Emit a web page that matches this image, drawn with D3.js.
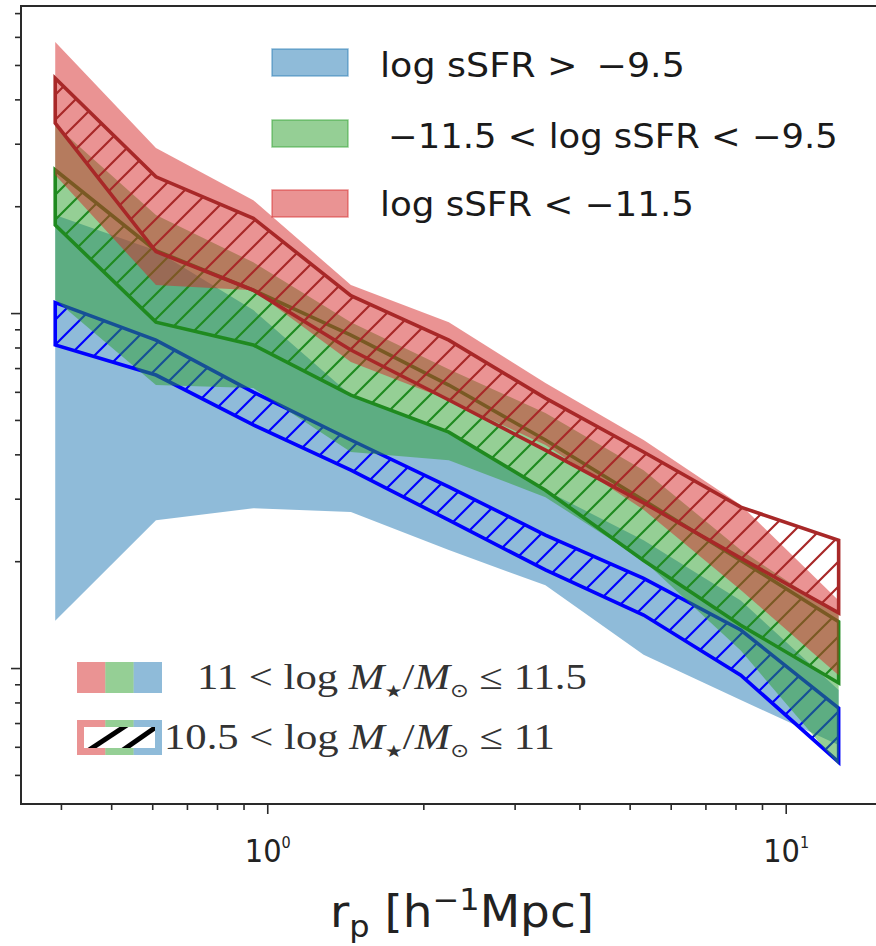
<!DOCTYPE html>
<html><head><meta charset="utf-8">
<script src="https://cdn.jsdelivr.net/npm/d3@7"></script>
<style>body{margin:0;background:#fff}svg{display:block}</style>
</head><body>
<svg id="c" width="876" height="946"></svg>
<script>
// projected separation bins (h^-1 Mpc)
const rp = [0.39, 0.61, 0.94, 1.45, 2.24, 3.44, 5.32, 8.19, 12.65];

// 11 < log M* <= 11.5  (solid bands)
const blueSolidHi  = [189, 150, 102, 58.7, 46.2, 31.7, 22.9, 15.5, 8.67];
const blueSolidLo  = [13.6, 26.1, 28.2, 27.5, 21.5, 17.1, 10.9, 8.13, 6.07];
const greenSolidHi = [339, 189, 139, 94.3, 69.5, 52.3, 36.1, 21.5, 14.1];
const greenSolidLo = [109, 62.7, 61.5, 40.6, 38.5, 30.3, 20.1, 11.2, 5.33];
const redSolidHi   = [580, 292, 208, 120, 94.3, 63.5, 43.9, 28.8, 15.5];
const redSolidLo   = [245, 120, 116, 72.8, 56.9, 42.5, 27.9, 16.6, 9.55];

// 10.5 < log M* <= 11  (hatched bands)
const blueHatchHi  = [107, 83.9, 59.9, 43.9, 32.4, 23.7, 17.9, 12.8, 7.71];
const blueHatchLo  = [81.3, 66.9, 48.4, 36.1, 26.1, 18.9, 14.1, 9.55, 5.43];
const greenHatchHi = [253, 150, 116, 86.7, 62.7, 43.9, 29.7, 20.1, 13.5];
const greenHatchLo = [177, 94.3, 81.3, 58.7, 46.2, 31.7, 20.1, 13.2, 9.08];
const redHatchHi   = [459, 242, 185, 112, 83.9, 57.6, 40.6, 28.4, 22.9];
const redHatchLo   = [343, 149, 116, 78.7, 56.9, 41.1, 29.2, 20.4, 14.3];

const xMajorTicks = [1, 10];
const xTickLabels = [["10","0"], ["10","1"]];
const xMinorTicks = [0.4,0.5,0.6,0.7,0.8,0.9,2,3,4,5,6,7,8,9];
const yMajorTicks = [10, 100];
const yMinorTicks = [5,6,7,8,9,20,30,40,50,60,70,80,90,200,300,400,500,600,700];
const sfrLabels = ["log sSFR > \u2009\u22129.5", "\u221211.5 < log sSFR < \u22129.5", "log sSFR < \u221211.5"];
const massLabels = [["11 < log ", " \u2264 11.5"], ["10.5 < log ", " \u2264 11"]];

const C = {
  blue:  {solid:"#1f77b4", hatch:"#0000ff"},
  green: {solid:"#2ca02c", hatch:"#1f8a1f"},
  red:   {solid:"#d62728", hatch:"#a82828"}
};

const svg = d3.select("#c");
const L = 21, R = 880, T = 6, B = 804;
const x = d3.scaleLog().domain([0.335, 15.2]).range([L, R]);
const y = d3.scaleLog().domain([4.14, 733]).range([B, T]);

const defs = svg.append("defs");
defs.append("clipPath").attr("id","plotclip").append("rect")
  .attr("x",L).attr("y",T).attr("width",R-L).attr("height",B-T);
function hatchPattern(id, color){
  const p = defs.append("pattern").attr("id",id).attr("patternUnits","userSpaceOnUse")
    .attr("width",25).attr("height",25);
  p.append("path").attr("d","M-5,5 L5,-5 M0,25 L25,0 M20,30 L30,20")
    .attr("stroke",color).attr("stroke-width",2.2).attr("fill","none");
}
hatchPattern("hb", C.blue.hatch);
hatchPattern("hg", C.green.hatch);
hatchPattern("hr", C.red.hatch);

const plot = svg.append("g").attr("clip-path","url(#plotclip)");
function band(lo, hi){
  return d3.area().x((d,i)=>x(rp[i])).y0((d,i)=>y(lo[i])).y1((d,i)=>y(hi[i]))(rp);
}
function solid(lo, hi, color){
  plot.append("path").attr("d", band(lo,hi)).attr("fill", color).attr("fill-opacity",0.5).attr("stroke","none");
}
function hatched(lo, hi, color, pid){
  plot.append("path").attr("d", band(lo,hi)).attr("fill", `url(#${pid})`)
    .attr("stroke", color).attr("stroke-width",3.6).attr("stroke-linejoin","miter");
}
solid(blueSolidLo, blueSolidHi, C.blue.solid);
hatched(blueHatchLo, blueHatchHi, C.blue.hatch, "hb");
solid(greenSolidLo, greenSolidHi, C.green.solid);
hatched(greenHatchLo, greenHatchHi, C.green.hatch, "hg");
solid(redSolidLo, redSolidHi, C.red.solid);
hatched(redHatchLo, redHatchHi, C.red.hatch, "hr");

// axes
const axCol = "#2a2a2a";
const gx = svg.append("g").attr("transform",`translate(0,${B})`)
  .call(d3.axisBottom(x).tickValues(xMajorTicks).tickSize(10).tickFormat(""));
const gxm = svg.append("g").attr("transform",`translate(0,${B})`)
  .call(d3.axisBottom(x).tickValues(xMinorTicks).tickSize(6).tickFormat(""));
const gy = svg.append("g").attr("transform",`translate(${L},0)`)
  .call(d3.axisLeft(y).tickValues(yMajorTicks).tickSize(10).tickFormat(""));
const gym = svg.append("g").attr("transform",`translate(${L},0)`)
  .call(d3.axisLeft(y).tickValues(yMinorTicks).tickSize(6).tickFormat(""));
[gx,gxm,gy,gym].forEach(g=>{
  g.select(".domain").remove();
  g.selectAll(".tick line").attr("stroke",axCol).attr("stroke-width",1.6);
});

function fitWidth(sel, x0, target){
  const w = sel.node().getBBox().width;
  sel.attr("transform", `translate(${x0},0) scale(${target/w},1) translate(${-x0},0)`);
}

// x tick labels 10^0, 10^1
gx.selectAll(".tick").each(function(d,i){
  const t = d3.select(this).append("text").attr("y",58).attr("text-anchor","middle")
    .attr("fill","#222").attr("font-family","DejaVu Sans").attr("font-size",32);
  t.append("tspan").text(xTickLabels[i][0]);
  t.append("tspan").attr("font-size",16).attr("dy",-14).text(xTickLabels[i][1]);
  const w = t.node().getBBox().width;
  t.attr("transform", `scale(${46/w},1)`);
});

// frame
svg.append("rect").attr("x",L).attr("y",T).attr("width",R-L).attr("height",B-T)
  .attr("fill","none").attr("stroke",axCol).attr("stroke-width",2);

// x label
const xl = svg.append("text").attr("x",330).attr("y",927).attr("fill","#222")
  .attr("font-family","DejaVu Sans").attr("font-size",44);
xl.append("tspan").text("r");
xl.append("tspan").attr("font-size",30).attr("dy",10).text("p");
xl.append("tspan").attr("dy",-10).text(" [h");
xl.append("tspan").attr("font-size",30).attr("dy",-17).text("\u22121");
xl.append("tspan").attr("dy",17).text("Mpc]");
fitWidth(xl, 330, 264);

// sSFR legend
const sfrCols = [C.blue.solid, C.green.solid, C.red.solid];
const sfrY = [49, 120, 190];
const sfrBase = [77, 148, 216];
const sfrX = [380, 388, 380];
const sfrW = [305, 450, 314];
sfrLabels.forEach((lab,i)=>{
  svg.append("rect").attr("x",272).attr("y",sfrY[i]).attr("width",76).attr("height",27)
    .attr("fill",sfrCols[i]).attr("fill-opacity",0.5)
    .attr("stroke",sfrCols[i]).attr("stroke-opacity",0.5).attr("stroke-width",1.5);
  const t = svg.append("text").attr("x",sfrX[i]).attr("y",sfrBase[i]).attr("fill","#1a1a1a")
    .attr("font-family","DejaVu Sans").attr("font-size",33).attr("xml:space","preserve").text(lab);
  fitWidth(t, sfrX[i], sfrW[i]);
});

// stellar-mass legend (pasted box)
svg.append("rect").attr("x",150).attr("y",688).attr("width",553).attr("height",100).attr("fill","#fff");
const segCols = [C.red.solid, C.green.solid, C.blue.solid];
segCols.forEach((c,i)=>{
  svg.append("rect").attr("x",77+i*28.33).attr("y",662).attr("width",28.33).attr("height",31)
    .attr("fill",c).attr("fill-opacity",0.5);
  svg.append("rect").attr("x",77+i*28.33).attr("y",720).attr("width",28.33).attr("height",35)
    .attr("fill",c).attr("fill-opacity",0.5);
});
svg.append("rect").attr("x",84).attr("y",727).attr("width",71).attr("height",21).attr("fill","#fff");
defs.append("clipPath").attr("id","lgclip").append("rect").attr("x",84).attr("y",727).attr("width",71).attr("height",21);
const lg = svg.append("g").attr("clip-path","url(#lgclip)");
[[92,748,124,727],[126,748,156,727]].forEach(s=>{
  lg.append("line").attr("x1",s[0]-3).attr("y1",s[1]+2).attr("x2",s[2]+3).attr("y2",s[3]-2)
    .attr("stroke","#000").attr("stroke-width",5);
});
const massX = [197, 164], massBase = [689, 749], massW = [390, 391];
massLabels.forEach((lab,i)=>{
  const t = svg.append("text").attr("x",massX[i]).attr("y",massBase[i]).attr("fill","#333")
    .attr("font-family","Liberation Serif").attr("font-size",36).attr("xml:space","preserve");
  t.append("tspan").text(lab[0]);
  t.append("tspan").attr("font-style","italic").text("M");
  t.append("tspan").attr("font-size",17).attr("dy",8).attr("font-family","DejaVu Sans").text("\u2605");
  t.append("tspan").attr("dy",-8).text("/");
  t.append("tspan").attr("font-style","italic").text("M");
  t.append("tspan").attr("font-size",19).attr("dy",8).attr("font-family","DejaVu Sans").text("\u2299");
  t.append("tspan").attr("dy",-8).text(lab[1]);
  fitWidth(t, massX[i], massW[i]);
});
</script>
</body></html>
